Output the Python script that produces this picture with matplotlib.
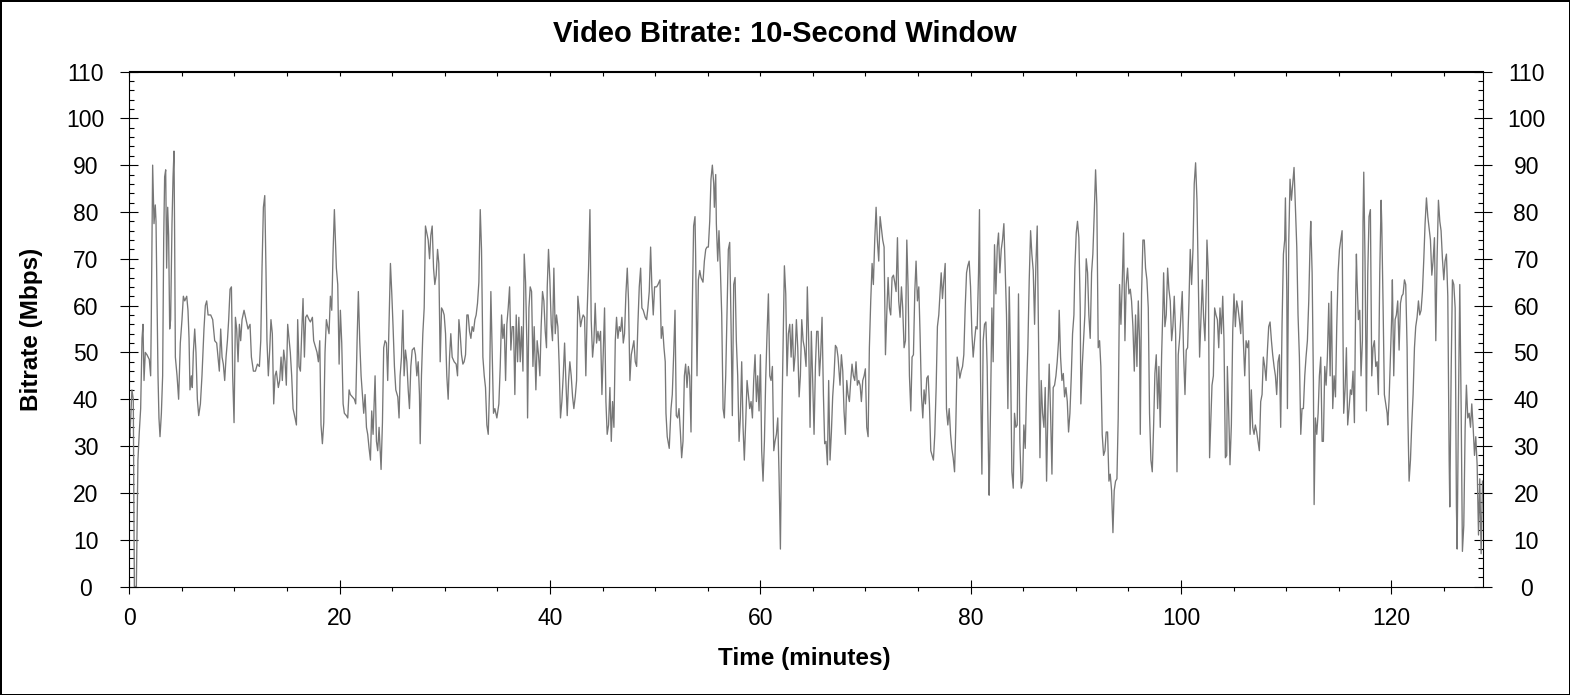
import numpy as np
import matplotlib.pyplot as plt
from matplotlib.ticker import MultipleLocator

plt.rcParams['font.family'] = ['Liberation Sans', 'DejaVu Sans']

# (minute, Mbps)
samples = [
    (0.0, 33), (0.06, 32), (0.25, 42), (0.38, 40), (0.48, 0), (0.67, 0), (0.82, 27), (0.95, 33), (1.08, 38), (1.21, 53),
    (1.30, 56), (1.40, 44), (1.52, 50), (1.68, 49.5), (1.90, 48.5), (2.03, 45), (2.09, 57), (2.22, 90), (2.35, 77.5), (2.47, 81.5),
    (2.54, 78), (2.63, 63), (2.73, 45), (2.82, 36), (2.92, 32), (3.05, 37), (3.17, 45), (3.27, 74), (3.36, 87.5), (3.46, 89),
    (3.55, 68), (3.65, 81), (3.74, 75), (3.84, 55), (3.93, 57), (4.06, 77.5), (4.16, 87.5), (4.25, 93), (4.31, 75), (4.38, 49),
    (4.54, 45), (4.69, 40), (4.85, 52), (5.01, 57), (5.14, 62), (5.27, 61), (5.46, 62), (5.58, 59), (5.68, 53), (5.77, 42),
    (5.90, 45), (5.99, 42.5), (6.09, 50), (6.22, 55), (6.34, 50), (6.47, 40), (6.60, 36.5), (6.76, 39), (6.91, 45), (7.10, 55),
    (7.23, 60), (7.36, 61), (7.49, 58), (7.74, 58), (7.93, 57), (8.12, 52.5), (8.31, 52), (8.44, 49), (8.56, 46), (8.69, 55),
    (8.82, 49), (8.94, 47.5), (9.07, 44), (9.20, 49), (9.33, 52.5), (9.45, 57), (9.58, 63.5), (9.71, 64), (9.83, 45), (9.96, 35),
    (10.09, 57.5), (10.21, 55), (10.34, 48), (10.47, 56), (10.59, 52.5), (10.72, 57), (10.91, 59), (11.10, 57), (11.29, 55), (11.48, 56),
    (11.61, 49), (11.80, 46), (11.99, 46), (12.18, 47.5), (12.37, 47), (12.50, 52.5), (12.62, 68), (12.75, 81), (12.88, 83.5),
    (13.00, 67), (13.09, 52.5), (13.22, 45), (13.35, 50.5), (13.47, 57), (13.60, 54), (13.73, 39), (13.86, 45), (13.98, 46), (14.17, 42.5),
    (14.30, 44), (14.43, 49), (14.55, 44), (14.68, 50.5), (14.81, 48), (14.93, 43), (15.06, 56), (15.19, 53), (15.31, 50), (15.44, 45),
    (15.57, 38), (15.76, 36), (15.89, 34.5), (16.01, 57), (16.14, 47), (16.27, 46), (16.39, 54), (16.52, 61.5), (16.65, 49), (16.77, 57.5),
    (16.90, 58), (17.09, 57), (17.22, 56.5), (17.41, 57.5), (17.53, 52.5), (17.72, 51), (17.85, 50), (17.98, 48), (18.11, 52.5), (18.23, 34.5),
    (18.36, 30.5), (18.49, 35), (18.61, 50), (18.74, 57), (18.87, 55.5), (18.99, 54), (19.12, 62), (19.25, 59), (19.37, 71), (19.50, 80.5),
    (19.60, 74), (19.69, 68), (19.82, 64.5), (19.95, 47.5), (20.07, 59), (20.20, 52), (20.33, 39), (20.45, 37), (20.64, 36.5), (20.77, 36),
    (20.90, 42), (21.02, 41), (21.21, 40.5), (21.40, 40), (21.53, 39), (21.66, 52.5), (21.78, 63), (21.91, 52.5), (22.04, 45), (22.17, 41),
    (22.29, 37), (22.42, 41), (22.55, 34), (22.67, 32.5), (22.80, 29.5), (22.93, 27), (23.05, 37.5), (23.18, 32.5), (23.37, 45), (23.50, 31),
    (23.62, 29), (23.75, 34), (23.94, 25), (24.07, 35), (24.19, 51), (24.32, 52.5), (24.45, 52), (24.57, 44), (24.70, 57), (24.83, 69),
    (24.96, 62.5), (25.08, 55.5), (25.21, 47), (25.34, 42), (25.53, 40.5), (25.65, 36), (25.75, 45),
    (25.88, 49), (26.01, 59), (26.13, 45), (26.26, 50.5), (26.39, 48), (26.52, 42), (26.64, 38), (26.77, 47), (26.90, 50.5), (27.09, 51),
    (27.21, 49.5), (27.34, 45), (27.47, 48), (27.59, 41), (27.66, 30.5), (27.78, 45), (27.91, 54), (28.04, 59.5), (28.16, 77), (28.29, 75.5),
    (28.42, 74), (28.55, 70), (28.67, 75), (28.80, 77), (28.93, 68), (29.05, 64.5), (29.18, 66.5), (29.31, 72), (29.43, 69), (29.56, 48),
    (29.69, 59.5), (29.81, 59), (29.94, 58), (30.07, 54), (30.19, 45), (30.32, 40), (30.45, 49), (30.57, 54), (30.70, 49), (30.89, 48),
    (31.08, 47.5), (31.21, 45), (31.34, 57), (31.46, 54), (31.59, 49.5), (31.72, 47.5), (31.84, 48), (31.97, 49.5), (32.10, 58), (32.22, 58),
    (32.35, 54.5), (32.48, 53), (32.60, 55.5), (32.73, 54.5), (32.86, 57), (32.98, 58), (33.11, 60.5), (33.24, 65), (33.37, 80.5), (33.49, 72),
    (33.62, 49), (33.75, 45), (33.87, 42.5), (34.00, 34.5), (34.13, 32.5), (34.25, 42), (34.38, 63), (34.51, 49), (34.63, 37), (34.76, 38),
    (34.95, 36), (35.14, 39), (35.27, 47), (35.40, 58), (35.52, 53), (35.65, 56), (35.78, 44), (35.90, 56), (36.03, 59.5), (36.16, 64),
    (36.28, 50.5), (36.41, 55.5), (36.54, 55.5), (36.66, 41), (36.79, 58), (36.92, 48), (37.04, 57.5), (37.17, 48), (37.30, 55.5), (37.43, 46),
    (37.55, 71), (37.68, 65), (37.81, 51), (37.87, 36), (38.00, 59.5), (38.12, 64), (38.25, 63), (38.38, 47), (38.50, 55.5),
    (38.66, 42), (38.78, 52.5), (38.91, 49.5), (39.04, 45), (39.16, 55.5), (39.29, 63), (39.42, 61), (39.55, 54.5), (39.67, 51), (39.74, 64),
    (39.86, 72), (39.99, 65.5), (40.12, 56), (40.24, 52.5), (40.37, 68), (40.50, 54), (40.62, 58), (40.75, 55.5), (40.88, 47), (41.00, 36),
    (41.13, 39.5), (41.26, 45), (41.39, 52), (41.51, 44), (41.64, 36.5), (41.77, 44), (41.89, 48), (42.02, 45), (42.15, 40.5), (42.27, 38),
    (42.40, 40.5), (42.53, 44), (42.65, 62), (42.78, 59), (42.91, 55.5), (43.03, 57), (43.16, 58), (43.29, 57.5), (43.41, 45), (43.54, 59),
    (43.67, 68), (43.80, 80.5), (43.92, 57), (44.05, 49), (44.18, 52.5), (44.30, 60.5), (44.43, 52), (44.56, 54.5), (44.68, 52.5), (44.81, 54.5),
    (44.94, 41), (45.06, 49.5), (45.19, 59.5), (45.32, 39.5), (45.44, 32.5), (45.57, 34.5), (45.70, 42.5), (45.83, 31), (45.95, 39.5), (46.08, 34),
    (46.21, 52.5), (46.33, 57.5), (46.46, 53), (46.59, 55.5), (46.71, 54.5), (46.84, 57.5), (46.97, 52), (47.09, 54), (47.22, 62.5), (47.35, 68),
    (47.47, 61), (47.60, 44), (47.73, 49.5), (47.86, 51), (47.98, 52.5), (48.11, 48), (48.24, 47), (48.36, 56), (48.49, 64), (48.62, 68),
    (48.74, 59.5), (48.87, 59), (49.06, 57.5), (49.19, 57), (49.31, 59.5), (49.44, 63), (49.57, 72.5), (49.69, 64), (49.82, 58), (49.95, 64),
    (50.14, 64), (50.27, 64.5), (50.46, 65.5), (50.58, 53), (50.71, 55.5), (50.84, 51), (50.96, 48), (51.03, 37), (51.15, 32), (51.34, 29.5),
    (51.51, 38), (51.63, 41), (51.76, 49.5), (51.89, 59), (52.01, 36.5), (52.14, 36), (52.27, 38), (52.40, 33), (52.52, 27.5), (52.65, 31),
    (52.78, 45), (52.90, 47.5), (53.03, 42.5), (53.16, 47), (53.28, 45), (53.41, 33), (53.54, 61), (53.66, 77), (53.79, 79), (53.85, 71),
    (53.98, 45), (54.11, 65.5), (54.24, 67.5), (54.36, 66), (54.55, 65), (54.68, 69.5), (54.81, 72), (54.93, 72.5), (55.06, 72.5), (55.19, 78),
    (55.31, 87), (55.44, 90), (55.57, 86), (55.63, 81), (55.76, 88), (55.82, 77.5), (55.95, 69.5), (56.07, 76), (56.20, 68), (56.33, 58),
    (56.46, 38), (56.58, 36), (56.71, 45), (56.84, 59.5), (56.96, 72), (57.09, 73.5), (57.22, 55.5), (57.34, 36.5), (57.47, 64.5), (57.60, 66),
    (57.72, 52.5), (57.85, 45), (57.98, 31), (58.10, 36), (58.23, 48), (58.36, 34), (58.48, 27), (58.61, 35), (58.74, 44), (58.87, 41),
    (58.99, 38), (59.12, 39.5), (59.25, 36), (59.37, 44), (59.50, 49.5), (59.63, 39.5), (59.75, 45), (59.88, 37.5), (60.01, 49.5), (60.13, 29),
    (60.26, 22.5), (60.39, 31), (60.51, 44), (60.64, 54), (60.77, 62.5), (60.90, 45), (61.02, 44), (61.15, 47), (61.28, 29), (61.40, 31),
    (61.53, 32.5), (61.66, 36), (61.78, 24), (61.91, 8), (62.04, 34.5), (62.16, 51), (62.29, 68.5), (62.42, 62.5), (62.54, 45), (62.67, 54),
    (62.80, 56), (62.93, 49), (63.05, 56), (63.18, 46), (63.31, 49.5), (63.43, 57), (63.56, 51), (63.69, 40.5), (63.81, 45), (63.94, 57),
    (64.07, 52.5), (64.19, 51),
    (64.35, 47), (64.47, 64), (64.60, 52.5), (64.73, 34), (64.85, 54.5), (64.98, 44), (65.11, 32.5), (65.24, 47), (65.36, 54.5), (65.49, 54.5),
    (65.62, 45), (65.74, 49.5), (65.87, 57.5), (66.00, 41), (66.12, 30.5), (66.25, 31), (66.38, 26), (66.50, 44), (66.63, 27), (66.76, 33),
    (66.88, 40.5), (67.01, 45), (67.14, 51.5), (67.27, 51), (67.39, 49), (67.58, 43), (67.71, 49.5), (67.84, 46), (67.96, 37.5), (68.09, 32.5),
    (68.22, 44), (68.34, 41), (68.47, 39.5), (68.60, 44), (68.72, 47.5), (68.85, 45), (68.98, 44), (69.10, 48), (69.23, 43), (69.36, 44),
    (69.49, 43), (69.61, 39.5), (69.74, 44), (69.87, 45), (69.99, 46.5), (70.12, 34), (70.25, 32), (70.37, 51), (70.50, 61), (70.63, 69),
    (70.75, 64.5), (70.88, 74), (71.01, 81), (71.13, 74), (71.26, 69.5), (71.39, 79), (71.52, 76.5), (71.64, 74), (71.77, 72.5), (71.90, 49.5),
    (72.02, 58), (72.15, 66), (72.28, 59.5), (72.40, 58), (72.53, 66), (72.66, 66.5), (72.78, 65), (72.91, 63), (73.04, 74.5), (73.16, 61),
    (73.29, 57.5), (73.42, 64), (73.54, 59.5), (73.67, 51), (73.80, 52.5), (73.93, 74), (74.05, 64), (74.18, 45), (74.31, 37.5), (74.43, 49),
    (74.56, 49.5), (74.69, 63), (74.81, 69.5), (74.94, 61), (75.07, 64), (75.19, 54), (75.32, 41), (75.45, 36), (75.57, 42), (75.70, 39),
    (75.83, 44.5), (75.96, 45), (76.08, 39), (76.21, 29), (76.34, 28), (76.46, 27), (76.59, 32.5), (76.72, 42.5), (76.84, 55.5), (76.97, 58),
    (77.20, 67), (77.32, 61.5), (77.45, 65.5), (77.58, 69), (77.70, 38), (77.83, 34.5), (77.96, 38), (78.09, 32.5), (78.21, 29.5), (78.34, 27.5),
    (78.47, 24.5), (78.59, 34.5), (78.72, 49), (78.85, 47), (78.97, 44.5), (79.10, 46), (79.23, 47), (79.35, 49.5), (79.48, 59.5), (79.61, 67),
    (79.73, 68.5), (79.86, 69.5), (79.99, 64), (80.12, 54), (80.24, 49), (80.37, 52.5), (80.50, 55.5), (80.62, 55), (80.75, 67), (80.84, 80.5),
    (80.94, 45), (81.07, 24), (81.19, 52.5), (81.32, 56), (81.45, 56.5), (81.57, 47), (81.70, 27), (81.76, 19.5), (81.89, 38), (82.02, 59.5),
    (82.14, 48), (82.27, 73), (82.40, 62.5), (82.53, 72.5), (82.65, 75.5), (82.78, 67), (82.91, 72), (83.03, 74), (83.16, 77.5), (83.29, 67),
    (83.41, 58), (83.54, 38), (83.67, 64), (83.79, 49), (83.92, 24.5), (84.05, 21), (84.17, 37), (84.30, 34), (84.43, 34.5), (84.55, 62.5),
    (84.68, 31), (84.81, 21), (84.94, 22.5), (85.06, 34.5), (85.19, 29.5), (85.32, 42.5), (85.44, 51), (85.57, 65.5), (85.70, 76), (85.82, 71),
    (85.95, 67.5), (86.08, 56), (86.20, 68.5), (86.33, 77), (86.46, 52.5), (86.59, 27.5), (86.71, 44), (86.84, 37), (86.97, 34), (87.09, 42.5),
    (87.22, 22.5), (87.35, 38), (87.47, 47.5), (87.60, 37), (87.73, 24), (87.85, 42.5), (87.98, 43), (88.11, 45), (88.23, 48), (88.36, 52.5),
    (88.42, 59), (88.55, 49), (88.68, 44), (88.81, 45.5), (88.93, 40.5), (89.06, 42.5), (89.19, 39.5), (89.31, 33), (89.44, 37), (89.57, 45),
    (89.69, 54), (89.82, 58), (89.91, 68),
    (90.04, 75.5), (90.16, 78), (90.29, 74.5), (90.42, 59.5), (90.48, 39), (90.61, 47), (90.74, 52.5), (90.86, 58), (90.99, 70), (91.12, 67),
    (91.24, 58), (91.37, 53), (91.50, 67), (91.62, 71), (91.75, 79.5), (91.88, 89), (92.00, 81.5), (92.13, 51), (92.26, 52.5), (92.38, 47),
    (92.51, 32.5), (92.64, 28), (92.77, 29), (92.89, 33), (93.02, 33), (93.15, 22.5), (93.27, 24), (93.40, 20.5), (93.53, 11.5), (93.65, 20.5),
    (93.78, 22.5), (93.91, 23), (94.03, 36), (94.16, 64.5), (94.29, 56), (94.41, 64.5), (94.54, 75.5), (94.67, 52.5), (94.79, 64.5), (94.92, 68),
    (95.05, 62.5), (95.18, 63.5), (95.30, 61), (95.43, 55.5), (95.56, 46), (95.68, 58), (95.81, 47), (95.94, 61), (96.06, 52.5), (96.13, 32.5),
    (96.25, 62.5), (96.38, 74), (96.51, 74), (96.63, 68), (96.76, 65.5), (96.89, 59.5), (97.01, 37), (97.14, 27), (97.27, 24.5), (97.40, 34.5),
    (97.52, 45.5), (97.65, 49.5), (97.78, 38), (97.90, 47), (98.03, 34), (98.16, 49.5), (98.28, 59.5), (98.35, 67), (98.47, 55.5), (98.60, 58),
    (98.73, 68), (98.85, 63.5), (98.98, 61), (99.11, 52.5), (99.23, 55.5), (99.36, 62), (99.49, 54), (99.62, 24.5), (99.74, 49.5), (99.87, 53),
    (100.00, 58), (100.12, 63), (100.25, 49.5), (100.38, 41), (100.50, 50.5), (100.63, 51), (100.76, 61), (100.88, 72), (101.01, 64.5), (101.14, 72),
    (101.26, 86), (101.39, 90.5), (101.52, 82.5), (101.64, 67), (101.77, 49), (101.90, 57.5), (102.03, 65.5), (102.15, 57.5), (102.28, 52.5), (102.41, 64.5),
    (102.47, 74), (102.60, 67), (102.72, 27.5),
    (102.82, 34.5), (102.95, 43), (103.08, 45), (103.20, 59.5), (103.33, 58), (103.46, 57), (103.59, 51), (103.71, 59.5), (103.84, 54), (103.97, 62),
    (104.09, 52.5), (104.22, 27.5), (104.35, 28), (104.41, 47), (104.54, 37), (104.66, 26), (104.79, 34.5), (104.92, 54.5), (105.04, 62.5), (105.17, 55.5),
    (105.30, 61), (105.42, 59.5), (105.55, 57), (105.68, 54), (105.81, 61), (105.93, 52.5), (106.06, 45), (106.19, 52.5), (106.31, 51), (106.44, 52.5),
    (106.57, 32.5), (106.69, 42), (106.82, 34), (106.95, 32.5), (107.07, 34.5), (107.20, 33), (107.33, 31), (107.45, 29), (107.58, 39.5), (107.71, 41),
    (107.83, 49), (107.96, 47), (108.09, 44), (108.22, 50.5), (108.34, 55.5), (108.47, 56.5), (108.60, 52.5), (108.72, 49.5), (108.85, 47), (108.98, 45),
    (109.10, 41), (109.23, 48), (109.36, 49.5), (109.48, 34), (109.61, 56), (109.74, 71), (109.86, 74), (109.93, 83), (110.06, 63), (110.12, 38),
    (110.25, 74), (110.37, 87), (110.50, 82.5), (110.63, 86), (110.75, 89.5), (110.88, 81), (111.01, 72.5), (111.13, 58), (111.26, 49), (111.39, 32.5),
    (111.51, 38), (111.64, 38), (111.77, 45), (111.89, 49), (112.02, 52.5), (112.15, 61), (112.28, 74), (112.34, 78), (112.47, 67), (112.59, 44),
    (112.66, 17.5), (112.78, 36), (112.91, 32.5), (113.04, 37), (113.16, 45), (113.29, 49), (113.42, 31), (113.54, 31), (113.67, 47), (113.80, 43),
    (113.92, 49), (114.05, 60.5), (114.18, 45), (114.30, 63), (114.43, 38), (114.56, 45), (114.69, 40.5), (114.81, 55.5), (114.94, 67), (115.07, 72),
    (115.19, 74), (115.32, 76),
    (115.41, 52.5), (115.47, 37), (115.60, 42), (115.73, 51), (115.85, 34.5), (115.98, 38), (116.11, 42), (116.23, 41), (116.36, 46), (116.49, 35),
    (116.62, 63), (116.68, 71), (116.74, 65.5), (116.87, 57), (117.00, 59), (117.12, 45), (117.25, 52.5), (117.31, 78), (117.38, 88.5), (117.50, 69.5),
    (117.63, 37.5), (117.76, 67), (117.88, 79), (118.01, 80.5), (118.14, 45), (118.26, 51), (118.39, 52.5), (118.52, 47), (118.65, 48), (118.77, 41),
    (118.90, 67), (119.03, 82.5), (119.09, 77.5), (119.22, 59.5), (119.34, 41), (119.47, 39), (119.60, 37), (119.66, 34.5), (119.79, 40), (119.91, 49),
    (120.04, 58), (120.10, 65.5), (120.23, 45), (120.36, 57), (120.48, 58), (120.61, 61), (120.74, 50.5), (120.87, 60.5), (120.99, 62), (121.12, 62.5),
    (121.25, 65.5), (121.37, 64.5), (121.50, 51), (121.56, 38), (121.69, 22.5), (121.82, 27), (121.94, 34.5), (122.07, 41), (122.20, 51), (122.32, 55.5),
    (122.45, 57.5), (122.58, 61), (122.70, 58), (122.83, 59), (122.96, 63), (123.09, 70), (123.21, 77.5), (123.34, 83), (123.47, 79), (123.59, 76.5),
    (123.72, 74), (123.85, 66.5), (123.97, 69.5), (124.10, 74.5), (124.23, 52.5), (124.35, 70), (124.48, 82.5), (124.61, 78), (124.73, 76), (124.86, 70),
    (124.99, 65.5), (125.11, 69.5), (125.24, 71), (125.37, 62), (125.50, 27), (125.56, 17), (125.69, 46), (125.81, 65.5), (125.94, 64.5), (126.07, 59.5),
    (126.19, 17), (126.26, 8), (126.38, 38), (126.51, 64.5), (126.64, 38), (126.76, 7.5), (126.89, 13), (127.02, 34), (127.14, 43), (127.27, 36),
    (127.40, 37), (127.53, 34), (127.65, 39), (127.78, 34), (127.91, 28), (128.03, 32), (128.16, 26), (128.29, 11), (128.41, 23), (128.54, 7),
    (128.67, 22.5),
]

x_ticks = [0, 20, 40, 60, 80, 100, 120]
y_ticks = [0, 10, 20, 30, 40, 50, 60, 70, 80, 90, 100, 110]
x_max = 128.67
y_max = 110

title = 'Video Bitrate: 10-Second Window'
x_label = 'Time (minutes)'
y_label = 'Bitrate (Mbps)'

minutes = np.array([s[0] for s in samples])
bitrate = np.array([s[1] for s in samples])

fig = plt.figure(figsize=(15.7, 6.95), dpi=100, facecolor='white',
                 edgecolor='black', linewidth=2)
ax = fig.add_axes([129.3 / 1570, 108.5 / 695, 1353.2 / 1570, 515 / 695])

ax.plot(minutes, bitrate, color='#777777', linewidth=0.95)

ax.set_xlim(0, x_max)
ax.set_ylim(0, y_max)
ax.set_xticks(x_ticks)
ax.set_yticks(y_ticks)
ax.xaxis.set_minor_locator(MultipleLocator(5))
ax.yaxis.set_minor_locator(MultipleLocator(2))

for sp in ax.spines.values():
    sp.set_linewidth(0.8)

# bottom axis: long crossing majors, short outside minors
ax.tick_params(axis='x', which='major', direction='inout', length=10, width=0.8,
               labelsize=16.5, pad=10, top=False)
ax.tick_params(axis='x', which='minor', direction='out', length=3, width=0.8, top=False)

# left and right axis carry the same scale
ax.tick_params(axis='y', which='major', direction='inout', length=13, width=0.8,
               labelsize=16.5, pad=25, left=True, right=True, labelleft=True, labelright=True)
ax.tick_params(axis='y', which='minor', direction='in', length=3.6, width=0.8,
               left=True, right=True)
for t in ax.yaxis.get_major_ticks():
    t.label1.set_horizontalalignment('center')
    t.label2.set_horizontalalignment('center')

# short inward ticks along the top
top = ax.secondary_xaxis('top')
top.set_xticks(x_ticks)
top.xaxis.set_minor_locator(MultipleLocator(5))
top.tick_params(which='both', direction='in', length=3.6, width=0.8, labeltop=False)

fig.text(0.5, 1 - 34 / 695, title, ha='center', va='center',
         fontsize=21, fontweight='bold')
fig.text(804 / 1570, 1 - 659 / 695, x_label, ha='center', va='center',
         fontsize=17.5, fontweight='bold')
fig.text(32 / 1570, 1 - 329 / 695, y_label, ha='center', va='center',
         rotation=90, fontsize=17.5, fontweight='bold')

fig.savefig('out.png', dpi=100)
